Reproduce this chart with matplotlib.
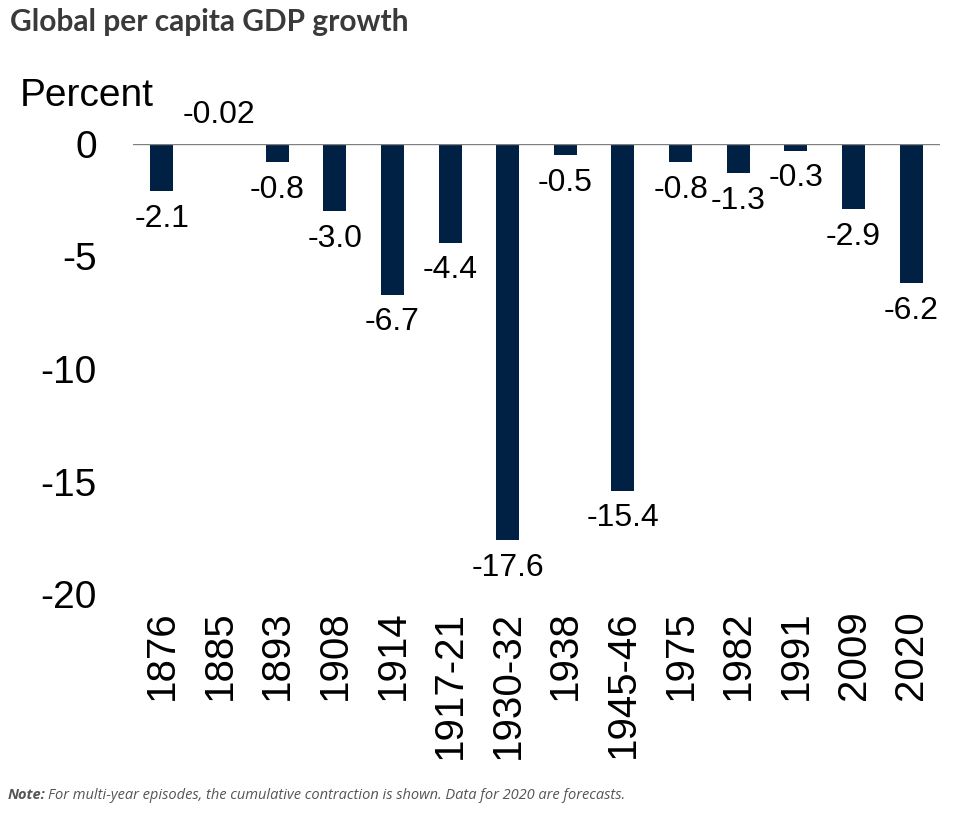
import matplotlib.pyplot as plt

# 世界の一人当たりGDP成長率（景気後退期）
years = ['1876', '1885', '1893', '1908', '1914', '1917-21', '1930-32', '1938',
         '1945-46', '1975', '1982', '1991', '2009', '2020']
growth = [-2.1, -0.02, -0.8, -3.0, -6.7, -4.4, -17.6, -0.5, -15.4, -0.8, -1.3, -0.3, -2.9, -6.2]
labels = ['-2.1', '-0.02', '-0.8', '-3.0', '-6.7', '-4.4', '-17.6', '-0.5', '-15.4',
          '-0.8', '-1.3', '-0.3', '-2.9', '-6.2']
yticks = [0, -5, -10, -15, -20]

plt.rcParams['font.family'] = ['Liberation Sans', 'DejaVu Sans']

fig = plt.figure(figsize=(9.69, 8.21), dpi=100)
ax = fig.add_axes([133 / 969, 1 - 594 / 821, 807 / 969, 450 / 821])

x = range(len(years))
ax.bar(x, growth, width=0.4, color='#002143')
ax.axhline(0, color='#808080', lw=1)

for i, (v, s) in enumerate(zip(growth, labels)):
    if abs(v) < 0.1:
        ax.annotate(s, (i, 0), xytext=(0, 10), textcoords='offset points',
                    ha='center', va='bottom', fontsize=23)
    else:
        ax.annotate(s, (i, v), xytext=(0, -9), textcoords='offset points',
                    ha='center', va='top', fontsize=23)

ax.set_xlim(-0.5, len(years) - 0.5)
ax.set_ylim(-20, 0)
ax.set_yticks(yticks)
ax.set_yticklabels([str(t) for t in yticks], fontsize=28)
ax.set_xticks(list(x))
ax.set_xticklabels(years, rotation=90, fontsize=29)
ax.tick_params(axis='y', length=0, pad=26)
ax.tick_params(axis='x', length=0, pad=12)
for sp in ax.spines.values():
    sp.set_visible(False)

fig.text(20 / 969, 1 - 96 / 821, 'Percent', fontsize=28, va='center', ha='left')
fig.text(10 / 969, 1 - 22 / 821, 'Global per capita GDP growth', fontsize=21.5,
         fontweight='bold', family='Lato', color='#3a3a3a', va='center', ha='left')
fig.text(8 / 969, 1 - 795 / 821, 'Note:', fontsize=10.5, fontweight='bold', style='italic',
         family='Open Sans', color='#555555', va='center', ha='left')
fig.text(48 / 969, 1 - 795 / 821,
         'For multi-year episodes, the cumulative contraction is shown. Data for 2020 are forecasts.',
         fontsize=10.5, style='italic', family='Open Sans', color='#555555', va='center', ha='left')

fig.savefig('out.png', dpi=100)
